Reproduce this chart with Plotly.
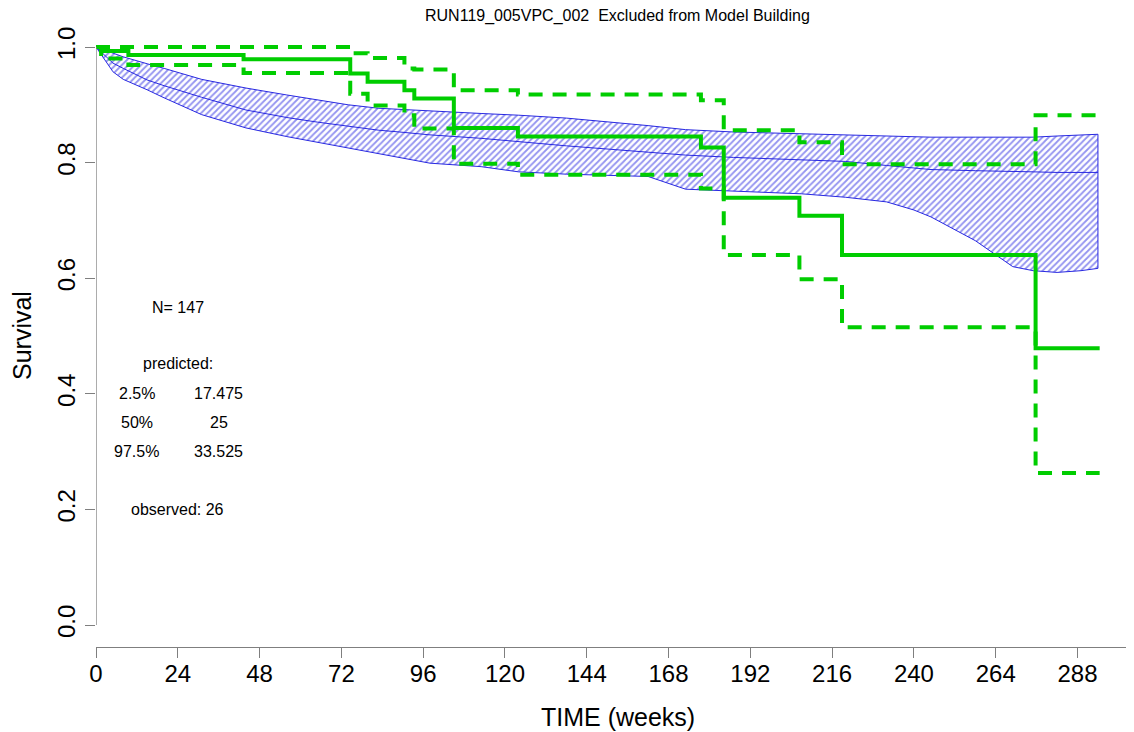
import plotly.graph_objects as go

# ---------------- data ----------------
title_text = "RUN119_005VPC_002  Excluded from Model Building"

# predicted (simulated) survival band
pred_time = [0, 5, 8, 15, 20, 31, 44, 56, 65, 74, 83, 89, 98, 113, 124, 138, 162, 173,
             187, 207, 220, 232, 240, 245, 258, 269, 275, 282, 289, 294]
pred_upper = [1.0, 0.990, 0.983, 0.971, 0.963, 0.944, 0.929, 0.917, 0.909, 0.900, 0.894,
              0.892, 0.890, 0.885, 0.882, 0.877, 0.864, 0.857, 0.853, 0.850, 0.847, 0.845,
              0.844, 0.844, 0.844, 0.844, 0.844, 0.846, 0.848, 0.849]
pred_median = [1.0, 0.972, 0.963, 0.943, 0.933, 0.913, 0.891, 0.878, 0.870, 0.863, 0.856,
               0.853, 0.848, 0.842, 0.836, 0.829, 0.818, 0.813, 0.809, 0.805, 0.802, 0.795,
               0.790, 0.788, 0.786, 0.784, 0.784, 0.783, 0.783, 0.783]
pred_lower = [1.0, 0.957, 0.944, 0.926, 0.912, 0.883, 0.860, 0.845, 0.835, 0.825, 0.815,
              0.809, 0.799, 0.793, 0.784, 0.780, 0.776, 0.754, 0.750, 0.746, 0.740, 0.732,
              0.718, 0.706, 0.665, 0.620, 0.613, 0.610, 0.613, 0.617]

# observed Kaplan-Meier with confidence limits
obs_time = [0, 1.5, 9.5, 43.3, 74.6, 79.7, 90.5, 93.4, 105.0, 123.8, 177.5, 184.2,
            206.4, 218.9, 275.7, 294.5]
obs_surv = [1.0, 0.993, 0.986, 0.979, 0.954, 0.940, 0.925, 0.911, 0.860, 0.845, 0.826,
            0.739, 0.708, 0.640, 0.479, 0.479]
obs_upper = [1.0, 1.0, 1.0, 1.0, 0.989, 0.981, 0.963, 0.961, 0.925, 0.918, 0.908, 0.856,
             0.835, 0.797, 0.882, 0.882]
obs_lower = [1.0, 0.980, 0.969, 0.955, 0.919, 0.899, 0.882, 0.859, 0.798, 0.779, 0.755,
             0.640, 0.598, 0.515, 0.263, 0.263]

x_ticks = [0, 24, 48, 72, 96, 120, 144, 168, 192, 216, 240, 264, 288]
y_ticks = [0.0, 0.2, 0.4, 0.6, 0.8, 1.0]
y_ticklabels = ["0.0", "0.2", "0.4", "0.6", "0.8", "1.0"]

# text block: (x, y, label)
info_text = [
    (24, 0.55, "N= 147"),
    (24, 0.452, "predicted:"),
    (12, 0.40, "2.5%"), (36, 0.40, "17.475"),
    (12, 0.35, "50%"), (36, 0.35, "25"),
    (12, 0.30, "97.5%"), (36, 0.30, "33.525"),
    (24, 0.20, "observed: 26"),
]

# ---------------- style ----------------
FONT = "Liberation Sans, Arial, Helvetica, sans-serif"
GREEN = "#00CD00"
BLUE = "rgb(40,40,225)"
AXIS_GRAY = "#7f7f7f"

OFF = 8  # page body margin offset
W, H = 1134 - OFF, 732 - OFF
ML, MR = 96 - OFF, 4
MT = 40 - OFF
MB = H - (647 - OFF)
PX_PER_WEEK = 3.408
PX_PER_UNIT = 578.0
Y0_PX = 625.0 - OFF
plot_w = W - ML - MR
plot_h = H - MT - MB
x_max = plot_w / PX_PER_WEEK
y_min = (Y0_PX - (H - MB)) / PX_PER_UNIT
y_max = (Y0_PX - MT) / PX_PER_UNIT

fig = go.Figure()

# hatched prediction band
band_x = pred_time + pred_time[::-1]
band_y = pred_upper + pred_lower[::-1]
fig.add_trace(go.Scatter(
    x=band_x, y=band_y, mode="lines", fill="toself",
    line=dict(color=BLUE, width=1),
    fillcolor="rgba(255,255,255,0)",
    fillpattern=dict(shape="/", fgcolor=BLUE, bgcolor="rgba(255,255,255,0)",
                     size=4.5, solidity=0.4),
    hoverinfo="skip", showlegend=False))
fig.add_trace(go.Scatter(
    x=pred_time, y=pred_median, mode="lines",
    line=dict(color=BLUE, width=1), showlegend=False, hoverinfo="skip"))

# observed KM and CI
for yy, dash in [(obs_upper, "14px,10px"), (obs_lower, "14px,10px"), (obs_surv, "solid")]:
    fig.add_trace(go.Scatter(
        x=obs_time, y=yy, mode="lines", line_shape="hv",
        line=dict(color=GREEN, width=4, dash=dash),
        showlegend=False, hoverinfo="skip"))

annotations = []
for (tx, ty, tt) in info_text:
    annotations.append(dict(x=tx, y=ty, xref="x", yref="y", text=tt, showarrow=False,
                            font=dict(family=FONT, size=16, color="black"),
                            xanchor="center", yanchor="middle"))

def px_to_paper_x(px):
    return (px - OFF - ML) / plot_w

def px_to_paper_y(py):
    return ((H - MB) - (py - OFF)) / plot_h

annotations.append(dict(x=px_to_paper_x(617.5), y=px_to_paper_y(16), xref="paper", yref="paper",
                        text=title_text, showarrow=False,
                        font=dict(family=FONT, size=16, color="black"),
                        xanchor="center", yanchor="middle"))
annotations.append(dict(x=px_to_paper_x(617.5), y=px_to_paper_y(717), xref="paper", yref="paper",
                        text="TIME (weeks)", showarrow=False,
                        font=dict(family=FONT, size=25, color="black"),
                        xanchor="center", yanchor="middle"))
annotations.append(dict(x=px_to_paper_x(22), y=0.5, xref="paper", yref="y",
                        text="Survival", showarrow=False, textangle=-90,
                        font=dict(family=FONT, size=25, color="black"),
                        xanchor="center", yanchor="middle"))

fig.update_layout(
    width=W, height=H,
    margin=dict(l=ML, r=MR, t=MT, b=MB, pad=0),
    paper_bgcolor="white", plot_bgcolor="white",
    showlegend=False,
    annotations=annotations,
    shapes=[dict(type="line", xref="x", yref="y", x0=0, x1=0, y0=0, y1=1,
                 line=dict(color=AXIS_GRAY, width=1.3))],
    xaxis=dict(range=[0, x_max], tickvals=x_ticks, ticks="outside", ticklen=10,
               tickcolor=AXIS_GRAY, tickwidth=1.3, showline=True, linecolor=AXIS_GRAY,
               linewidth=1.3, showgrid=False, zeroline=False, ticklabelstandoff=-5,
               tickfont=dict(family=FONT, size=24, color="black")),
    yaxis=dict(range=[y_min, y_max], tickvals=y_ticks, ticktext=y_ticklabels,
               ticks="outside", ticklen=10, tickcolor=AXIS_GRAY, tickwidth=1.3,
               showline=False, showgrid=False, zeroline=False, tickangle=-90,
               tickfont=dict(family=FONT, size=24, color="black")),
)

fig.write_html("out.html")
